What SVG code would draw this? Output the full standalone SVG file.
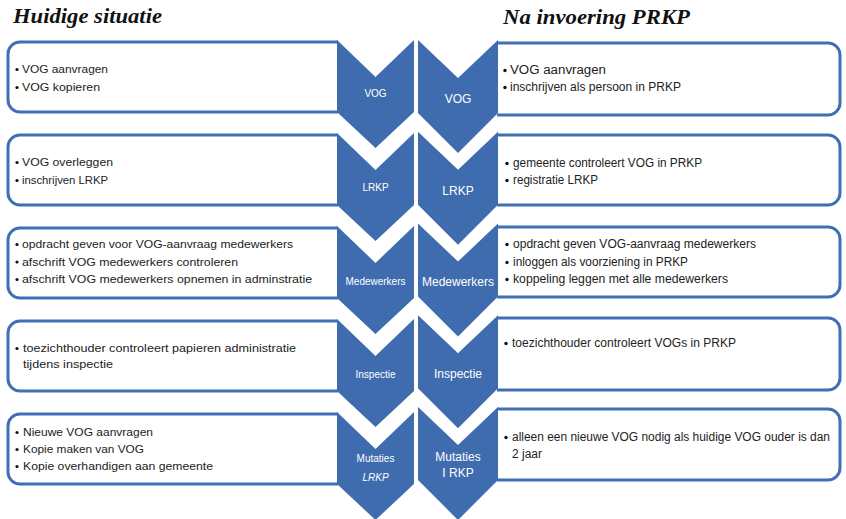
<svg xmlns="http://www.w3.org/2000/svg" width="846" height="519" viewBox="0 0 846 519">
<style>
.title{font-family:"Liberation Serif",serif;font-weight:bold;font-style:italic;font-size:22px;fill:#111}
.box{fill:#fff;stroke:#3F6FB5;stroke-width:3}
.chev{fill:#3E6CAE}
.tl{font-family:"Liberation Sans",Arial,sans-serif;font-size:11px;fill:#222}
.tr{font-family:"Liberation Sans",Arial,sans-serif;font-size:12px;fill:#222}
.cl{font-family:"Liberation Sans",Arial,sans-serif;font-size:10px;fill:#fff;text-anchor:middle}
.cr{font-family:"Liberation Sans",Arial,sans-serif;font-size:12px;fill:#fff;text-anchor:middle}
.dot{fill:#111}
</style>
<rect width="846" height="519" fill="#fff"/>
<text class="title" x="13" y="23" textLength="149" lengthAdjust="spacingAndGlyphs">Huidige situatie</text>
<text class="title" x="503" y="24" textLength="187" lengthAdjust="spacingAndGlyphs">Na invoering PRKP</text>

<!-- Left column -->
<g id="left1">
<path class="box" d="M338,42 H20 A12,12 0 0 0 8,54 V100 A12,12 0 0 0 20,112 H338"/>
<circle class="dot" cx="17" cy="69.5" r="1.6"/><text class="tl" x="22" y="73" textLength="86" lengthAdjust="spacingAndGlyphs">VOG aanvragen</text>
<circle class="dot" cx="17" cy="87.5" r="1.6"/><text class="tl" x="22" y="91" textLength="78" lengthAdjust="spacingAndGlyphs">VOG kopieren</text>
</g>
<g id="left2">
<path class="box" d="M338,135 H20 A12,12 0 0 0 8,147 V193 A12,12 0 0 0 20,205 H338"/>
<circle class="dot" cx="17" cy="162.5" r="1.6"/><text class="tl" x="22" y="166" textLength="91" lengthAdjust="spacingAndGlyphs">VOG overleggen</text>
<circle class="dot" cx="17" cy="180.5" r="1.6"/><text class="tl" x="22" y="184" textLength="86" lengthAdjust="spacingAndGlyphs">inschrijven LRKP</text>
</g>
<g id="left3">
<path class="box" d="M338,228 H20 A12,12 0 0 0 8,240 V286 A12,12 0 0 0 20,298 H338"/>
<circle class="dot" cx="17" cy="244.5" r="1.6"/><text class="tl" x="22" y="248" textLength="271" lengthAdjust="spacingAndGlyphs">opdracht geven voor VOG-aanvraag medewerkers</text>
<circle class="dot" cx="17" cy="262" r="1.6"/><text class="tl" x="22" y="265.5" textLength="216" lengthAdjust="spacingAndGlyphs">afschrift VOG medewerkers controleren</text>
<circle class="dot" cx="17" cy="279.5" r="1.6"/><text class="tl" x="22" y="283" textLength="290" lengthAdjust="spacingAndGlyphs">afschrift VOG medewerkers opnemen in adminstratie</text>
</g>
<g id="left4">
<path class="box" d="M338,321 H20 A12,12 0 0 0 8,333 V379 A12,12 0 0 0 20,391 H338"/>
<circle class="dot" cx="17" cy="348.5" r="1.6"/><text class="tl" x="23" y="352" textLength="273" lengthAdjust="spacingAndGlyphs">toezichthouder controleert papieren administratie</text>
<text class="tl" x="23" y="368" textLength="90" lengthAdjust="spacingAndGlyphs">tijdens inspectie</text>
</g>
<g id="left5">
<path class="box" d="M338,414 H20 A12,12 0 0 0 8,426 V472 A12,12 0 0 0 20,484 H338"/>
<circle class="dot" cx="17" cy="432.5" r="1.6"/><text class="tl" x="23" y="436" textLength="130" lengthAdjust="spacingAndGlyphs">Nieuwe VOG aanvragen</text>
<circle class="dot" cx="17" cy="449.5" r="1.6"/><text class="tl" x="23" y="453" textLength="121" lengthAdjust="spacingAndGlyphs">Kopie maken van VOG</text>
<circle class="dot" cx="17" cy="466.5" r="1.6"/><text class="tl" x="23" y="470" textLength="190" lengthAdjust="spacingAndGlyphs">Kopie overhandigen aan gemeente</text>
</g>

<!-- Right column -->
<g id="right1">
<path class="box" d="M497,43 H828 A12,12 0 0 1 840,55 V103 A12,12 0 0 1 828,115 H497"/>
<circle class="dot" cx="505" cy="70.5" r="1.7"/><text class="tr" x="510" y="74" textLength="96" lengthAdjust="spacingAndGlyphs">VOG aanvragen</text>
<circle class="dot" cx="505" cy="87.5" r="1.7"/><text class="tr" x="510" y="91" textLength="171" lengthAdjust="spacingAndGlyphs">inschrijven als persoon in PRKP</text>
</g>
<g id="right2">
<path class="box" d="M497,135 H828 A12,12 0 0 1 840,147 V193 A12,12 0 0 1 828,205 H497"/>
<circle class="dot" cx="507" cy="163.5" r="1.7"/><text class="tr" x="513" y="167" textLength="189" lengthAdjust="spacingAndGlyphs">gemeente controleert VOG in PRKP</text>
<circle class="dot" cx="507" cy="180.5" r="1.7"/><text class="tr" x="513" y="184" textLength="85" lengthAdjust="spacingAndGlyphs">registratie LRKP</text>
</g>
<g id="right3">
<path class="box" d="M497,227 H828 A12,12 0 0 1 840,239 V285 A12,12 0 0 1 828,297 H497"/>
<circle class="dot" cx="507" cy="244.5" r="1.7"/><text class="tr" x="513" y="248" textLength="243" lengthAdjust="spacingAndGlyphs">opdracht geven VOG-aanvraag medewerkers</text>
<circle class="dot" cx="507" cy="262.5" r="1.7"/><text class="tr" x="513" y="266" textLength="175" lengthAdjust="spacingAndGlyphs">inloggen als voorziening in PRKP</text>
<circle class="dot" cx="507" cy="279.5" r="1.7"/><text class="tr" x="513" y="283" textLength="215" lengthAdjust="spacingAndGlyphs">koppeling leggen met alle medewerkers</text>
</g>
<g id="right4">
<path class="box" d="M497,318 H828 A12,12 0 0 1 840,330 V378 A12,12 0 0 1 828,390 H497"/>
<circle class="dot" cx="506" cy="343.5" r="1.7"/><text class="tr" x="512" y="347" textLength="224" lengthAdjust="spacingAndGlyphs">toezichthouder controleert VOGs in PRKP</text>
</g>
<g id="right5">
<path class="box" d="M497,409 H828 A12,12 0 0 1 840,421 V468 A12,12 0 0 1 828,480 H497"/>
<circle class="dot" cx="506" cy="437.5" r="1.7"/><text class="tr" x="512" y="441" textLength="318" lengthAdjust="spacingAndGlyphs">alleen een nieuwe VOG nodig als huidige VOG ouder is dan</text>
<text class="tr" x="512" y="458" textLength="30" lengthAdjust="spacingAndGlyphs">2 jaar</text>
</g>

<!-- Chevrons left -->
<g id="chevL1"><path class="chev" d="M337,40 L375.5,77 L414,40 V112 L375.5,148 L337,112 Z"/><text class="cl" x="375.5" y="97">VOG</text></g>
<g id="chevL2"><path class="chev" d="M337,133 L375.5,170 L414,133 V205 L375.5,241 L337,205 Z"/><text class="cl" x="375.5" y="191">LRKP</text></g>
<g id="chevL3"><path class="chev" d="M337,226 L375.5,263 L414,226 V298 L375.5,334 L337,298 Z"/><text class="cl" x="375.5" y="284.5">Medewerkers</text></g>
<g id="chevL4"><path class="chev" d="M337,319 L375.5,356 L414,319 V391 L375.5,427 L337,391 Z"/><text class="cl" x="375.5" y="377.5">Inspectie</text></g>
<g id="chevL5"><path class="chev" d="M337,412 L375.5,449 L414,412 V484 L375.5,520 L337,484 Z"/><text class="cl" x="375.5" y="461.5">Mutaties</text><text class="cl" x="375.5" y="481" font-style="italic">LRKP</text></g>

<!-- Chevrons right -->
<g id="chevR1"><path class="chev" d="M418,40 L458,78 L498,40 V113 L458,153 L418,113 Z"/><text class="cr" x="458" y="103">VOG</text></g>
<g id="chevR2"><path class="chev" d="M418,131.75 L458,169.75 L498,131.75 V204.75 L458,244.75 L418,204.75 Z"/><text class="cr" x="458" y="195">LRKP</text></g>
<g id="chevR3"><path class="chev" d="M418,223.5 L458,261.5 L498,223.5 V296.5 L458,336.5 L418,296.5 Z"/><text class="cr" x="458" y="285.5">Medewerkers</text></g>
<g id="chevR4"><path class="chev" d="M418,315.25 L458,353.25 L498,315.25 V388.25 L458,428.25 L418,388.25 Z"/><text class="cr" x="458" y="377.5">Inspectie</text></g>
<g id="chevR5"><path class="chev" d="M418,407 L458,445 L498,407 V480 L458,520 L418,480 Z"/><text class="cr" x="458" y="460.5">Mutaties</text><text class="cr" x="458" y="476.5">I RKP</text></g>

<g id="connectors"></g>
</svg>
